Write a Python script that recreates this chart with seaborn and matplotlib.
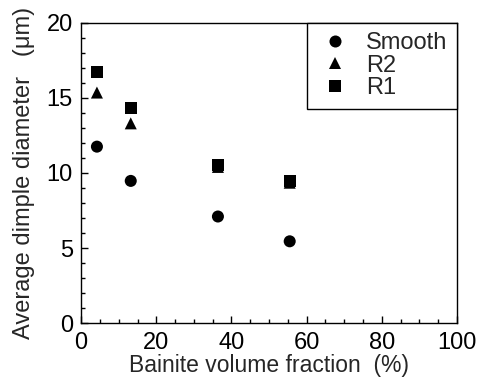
import seaborn as sns
import matplotlib.pyplot as plt
import pandas as pd
from matplotlib.ticker import MultipleLocator

# values
series = ['Smooth', 'R2', 'R1']
bainite = [4.2, 13.2, 36.4, 55.5]
smooth = [11.75, 9.47, 7.1, 5.45]
r2 = [15.35, 13.3, 10.4, 9.35]
r1 = [16.7, 14.35, 10.55, 9.47]

df = pd.DataFrame({
    'x': bainite * 3,
    'y': smooth + r2 + r1,
    'series': [s for s in series for _ in bainite],
})

sns.set_style('ticks')
plt.rcParams['font.family'] = ['Liberation Sans', 'DejaVu Sans']

fig = plt.figure(figsize=(4.83, 3.78), dpi=100)
ax = fig.add_axes([0.168, 0.145, 0.778, 0.795])

sns.scatterplot(data=df, x='x', y='y', hue='series', style='series',
                hue_order=series, style_order=series,
                palette=['black'] * 3,
                markers={'Smooth': 'o', 'R2': '^', 'R1': 's'},
                s=75, linewidth=0, ax=ax)

ax.set_xlim(0, 100)
ax.set_ylim(0, 20)
ax.xaxis.set_major_locator(MultipleLocator(20))
ax.xaxis.set_minor_locator(MultipleLocator(5))
ax.yaxis.set_major_locator(MultipleLocator(5))
ax.yaxis.set_minor_locator(MultipleLocator(1))
ax.tick_params(which='both', direction='in', top=False, right=False,
               labelsize=17, colors='black', width=1)
ax.tick_params(which='major', length=5, pad=6)
ax.tick_params(which='minor', length=3)
for sp in ax.spines.values():
    sp.set_color('black')
    sp.set_linewidth(1)

ax.set_xlabel('Bainite volume fraction  (%)', fontsize=16.5, labelpad=0)
ax.set_ylabel('Average dimple diameter   (\u03bcm)', fontsize=17, labelpad=8)

leg = ax.legend(loc='upper right', borderaxespad=0, fontsize=17,
                frameon=True, fancybox=False, edgecolor='black',
                handletextpad=0.5, labelspacing=0.02, borderpad=0.4,
                handlelength=1.6, markerscale=1.0)
leg.get_frame().set_linewidth(1)
leg.get_frame().set_alpha(1)

fig.savefig('out.png', dpi=100)
